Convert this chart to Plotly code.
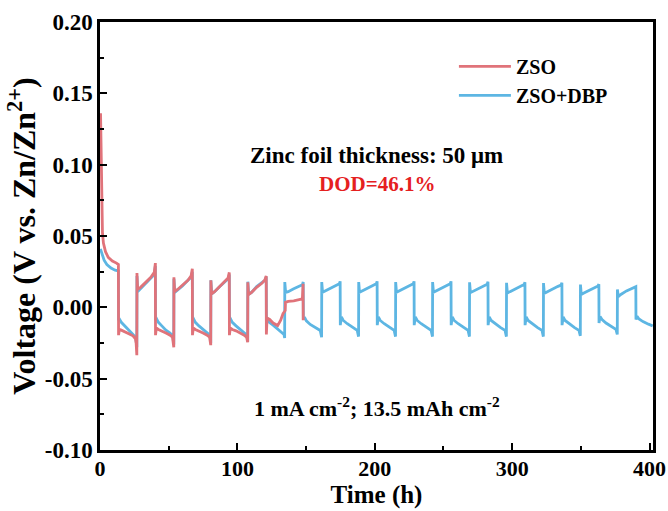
import plotly.graph_objects as go

# ---------------- data ----------------
zso_t = [0.4, 0.9, 1.3, 1.8, 2.5, 4, 6, 9, 12, 13.4,
         13.5, 14.1, 15.5, 18, 21, 24, 25.8, 26.3, 26.8,
         26.9, 27.4, 29.5, 33, 37, 39.5, 40.3,
         40.4, 41.0, 42.5, 45, 48, 51, 52.8, 53.7,
         53.8, 54.3, 56.5, 60, 64, 66.3, 67.2,
         67.3, 67.9, 69.4, 72, 75, 78, 79.8, 80.6,
         80.7, 81.2, 83.4, 87, 91, 93.2, 94.1,
         94.2, 94.8, 96.3, 99, 102, 105, 106.7, 107.5,
         107.6, 108.1, 110.3, 114, 118, 120.1, 121.0,
         121.1, 121.6, 123.5, 126, 129.3, 131.5, 133.2, 134.8,
         135.0, 137, 141, 145, 147.3, 147.8, 147.9]
zso_v = [0.136, 0.11, 0.075, 0.052, 0.045, 0.039, 0.035, 0.0325, 0.031, 0.030,
         -0.0195, -0.0155, -0.016, -0.017, -0.0185, -0.020, -0.022, -0.025, -0.0335,
         0.024, 0.0125, 0.014, 0.017, 0.021, 0.0245, 0.031,
         -0.0195, -0.0145, -0.0155, -0.0165, -0.018, -0.0195, -0.021, -0.028,
         0.021, 0.011, 0.0125, 0.0155, 0.019, 0.022, 0.027,
         -0.0195, -0.0145, -0.0155, -0.0165, -0.018, -0.0195, -0.021, -0.0265,
         0.019, 0.0095, 0.011, 0.0145, 0.018, 0.0205, 0.0245,
         -0.0195, -0.0145, -0.0155, -0.0165, -0.018, -0.0195, -0.021, -0.0245,
         0.0175, 0.009, 0.0105, 0.014, 0.017, 0.0195, 0.022,
         -0.019, -0.0075, -0.0085, -0.011, -0.0128, -0.009, -0.0045, -0.0022,
         0.0035, 0.0042, 0.0046, 0.0052, 0.006, 0.0165, -0.009]

dbp_t = [0.3, 1.5, 3, 5, 8, 11, 13.4,
         13.5, 14.3, 15.5, 18, 21, 24, 26.0, 26.8,
         26.9, 27.5, 29.5, 33, 37, 39.5, 40.3,
         40.4, 41.2, 42.5, 45, 48, 51, 53.0, 53.7,
         53.8, 54.4, 56.5, 60, 64, 66.4, 67.2,
         67.3, 68.1, 69.4, 72, 75, 78, 80.0, 80.6,
         80.7, 81.3, 83.4, 87, 91, 93.3, 94.1,
         94.2, 95.0, 96.3, 99, 102, 105, 107.0, 107.5,
         107.6, 108.2, 110.3, 114, 118, 120.2, 121.0,
         121.1, 121.9, 123.2, 126, 129, 132, 133.9, 134.4,
         134.5, 135.1, 137, 141, 145, 147.3, 147.9,
         148.0, 148.8, 150.2, 153, 157, 160.3, 161.3,
         161.4, 162.0, 163.9, 168, 172, 174.2, 174.8,
         174.9, 175.7, 177.1, 180, 184, 187.2, 188.2,
         188.3, 188.9, 190.8, 194.9, 198.9, 201.1, 201.7,
         201.8, 202.6, 204.0, 206.9, 210.9, 214.1, 215.1,
         215.2, 215.8, 217.7, 221.8, 225.8, 228.0, 228.6,
         228.7, 229.5, 230.9, 233.8, 237.8, 241.0, 242.0,
         242.1, 242.7, 244.6, 248.7, 252.7, 254.9, 255.5,
         255.6, 256.4, 257.8, 260.7, 264.7, 267.9, 268.9,
         269.0, 269.6, 271.5, 275.6, 279.6, 281.8, 282.4,
         282.5, 283.3, 284.7, 287.6, 291.6, 294.8, 295.8,
         295.9, 296.5, 298.4, 302.5, 306.5, 308.7, 309.3,
         309.4, 310.2, 311.6, 314.5, 318.5, 321.7, 322.7,
         322.8, 323.4, 325.3, 329.4, 333.4, 335.6, 336.2,
         336.3, 337.1, 338.5, 341.4, 345.4, 348.6, 349.6,
         349.7, 350.3, 352.2, 356.3, 360.3, 362.5, 363.1,
         363.2, 364.0, 365.4, 368.3, 372.3, 375.5, 376.5,
         376.6, 377.2, 379.1, 383.2, 387.2, 389.4, 390.0,
         390.1, 390.9, 392.3, 395.2, 399.2, 402.3]
dbp_v = [0.041, 0.037, 0.033, 0.030, 0.0275, 0.026, 0.0255,
         -0.009, -0.0085, -0.0105, -0.013, -0.016, -0.019, -0.021, -0.028,
         0.022, 0.011, 0.013, 0.016, 0.020, 0.023, 0.029,
         -0.009, -0.008, -0.0105, -0.013, -0.016, -0.018, -0.020, -0.026,
         0.020, 0.0105, 0.012, 0.015, 0.019, 0.021, 0.025,
         -0.009, -0.008, -0.0105, -0.013, -0.0155, -0.0175, -0.0195, -0.025,
         0.019, 0.0095, 0.011, 0.0145, 0.018, 0.020, 0.023,
         -0.009, -0.008, -0.0105, -0.013, -0.0155, -0.0175, -0.0195, -0.024,
         0.018, 0.009, 0.0105, 0.0145, 0.017, 0.019, 0.0215,
         -0.009, -0.008, -0.0105, -0.0125, -0.015, -0.017, -0.019, -0.0215,
         0.0177, 0.0105, 0.011, 0.013, 0.0145, 0.0158, 0.0178,
         -0.0085, -0.0068, -0.0095, -0.012, -0.0145, -0.0162, -0.021,
         0.0177, 0.0105, 0.0115, 0.0138, 0.0155, 0.0165, 0.0182,
         -0.0125, -0.0068, -0.0092, -0.0115, -0.0142, -0.0162, -0.0205,
         0.0177, 0.0105, 0.0115, 0.0138, 0.0155, 0.0165, 0.0182,
         -0.0125, -0.0068, -0.0092, -0.0115, -0.0142, -0.0162, -0.0205,
         0.0177, 0.0105, 0.0115, 0.0138, 0.0155, 0.0165, 0.0182,
         -0.0125, -0.0068, -0.0092, -0.0115, -0.0142, -0.0162, -0.0205,
         0.0177, 0.0105, 0.0115, 0.0138, 0.0155, 0.0165, 0.0182,
         -0.0125, -0.0068, -0.0092, -0.0115, -0.0142, -0.0162, -0.0205,
         0.0175, 0.0103, 0.0113, 0.0136, 0.0152, 0.0162, 0.0180,
         -0.0125, -0.0068, -0.0092, -0.0115, -0.0142, -0.0162, -0.0205,
         0.0172, 0.0100, 0.0110, 0.0133, 0.0150, 0.0160, 0.0175,
         -0.0125, -0.0068, -0.0092, -0.0115, -0.0142, -0.0162, -0.0205,
         0.0170, 0.0098, 0.0108, 0.0130, 0.0147, 0.0157, 0.0172,
         -0.0125, -0.0068, -0.0092, -0.0115, -0.0142, -0.0162, -0.0200,
         0.0160, 0.0090, 0.0100, 0.0122, 0.0140, 0.0150, 0.0162,
         -0.0110, -0.0065, -0.0085, -0.0110, -0.0135, -0.0155, -0.0190,
         0.0125, 0.0075, 0.0090, 0.0115, 0.0130, 0.0138, 0.0145,
         -0.0085, -0.0062, -0.0082, -0.0100, -0.0118, -0.0130]

x_tick_vals = [0, 100, 200, 300, 400]
x_tick_text = ["0", "100", "200", "300", "400"]
y_tick_vals = [-0.10, -0.05, 0.00, 0.05, 0.10, 0.15, 0.20]
y_tick_text = ["-0.10", "-0.05", "0.00", "0.05", "0.10", "0.15", "0.20"]

series_names = ["ZSO", "ZSO+DBP"]
series_colors = ["#E0737A", "#5DB6E3"]

# ---------------- figure ----------------
FONT = "Liberation Serif, Times New Roman, serif"

fig = go.Figure()
fig.add_trace(go.Scatter(x=dbp_t, y=dbp_v, mode="lines", name=series_names[1],
                         line=dict(color=series_colors[1], width=2.8), legendrank=2))
fig.add_trace(go.Scatter(x=zso_t, y=zso_v, mode="lines", name=series_names[0],
                         line=dict(color=series_colors[0], width=2.8), legendrank=1))

axis_common = dict(
    showline=True, linecolor="black", linewidth=2.5, mirror=True,
    ticks="inside", tickcolor="black", tickwidth=2, ticklen=7,
    showgrid=False, zeroline=False, automargin=False,
)

fig.update_xaxes(
    range=[0, 402.5], tickmode="array", tickvals=x_tick_vals, ticktext=x_tick_text,
    tickfont=dict(family=FONT, size=22, color="black", weight="bold"),
    ticklabelstandoff=-3,
    minor=dict(ticks="inside", dtick=50, ticklen=4, tickwidth=2, tickcolor="black", showgrid=False),
    title=dict(text="Time (h)", font=dict(family=FONT, size=25, color="black", weight="bold"),
               standoff=0),
    **axis_common)
fig.update_yaxes(
    range=[-0.10, 0.20], tickmode="array", tickvals=y_tick_vals, ticktext=y_tick_text,
    tickfont=dict(family=FONT, size=23, color="black", weight="bold"),
    minor=dict(ticks="inside", dtick=0.025, ticklen=4, tickwidth=2, tickcolor="black", showgrid=False),
    title=dict(text="Voltage (V vs. Zn/Zn<sup>2+</sup>)",
               font=dict(family=FONT, size=32, color="black", weight="bold"), standoff=0),
    **axis_common)

fig.add_annotation(x=0.5, y=0.689, xref="paper", yref="paper", showarrow=False,
                   xanchor="center", yanchor="middle",
                   text="Zinc foil thickness: 50 μm",
                   font=dict(family=FONT, size=23, color="black", weight="bold"))
fig.add_annotation(x=0.5, y=0.6215, xref="paper", yref="paper", showarrow=False,
                   xanchor="center", yanchor="middle",
                   text="DOD=46.1%", font=dict(family=FONT, size=21, color="#E5201F", weight="bold"))
fig.add_annotation(x=0.5, y=0.1005, xref="paper", yref="paper", showarrow=False,
                   xanchor="center", yanchor="middle",
                   text="1 mA cm<sup>-2</sup>; 13.5 mAh cm<sup>-2</sup>",
                   font=dict(family=FONT, size=22, color="black", weight="bold"))

fig.update_layout(
    width=668, height=511,
    margin=dict(l=100, r=15, t=22, b=61, autoexpand=False),
    paper_bgcolor="white", plot_bgcolor="white",
    showlegend=True,
    legend=dict(x=0.640, y=0.942, xanchor="left", yanchor="top",
                bgcolor="rgba(0,0,0,0)", borderwidth=0,
                font=dict(family=FONT, size=20, color="black", weight="bold"),
                itemwidth=52, tracegroupgap=0),
)

# remove the page's default body margin so the figure fills the window exactly
fig.write_html("out.html",
               config={"displayModeBar": False},
               post_script="document.body.style.margin='0';document.body.style.overflow='hidden';")
